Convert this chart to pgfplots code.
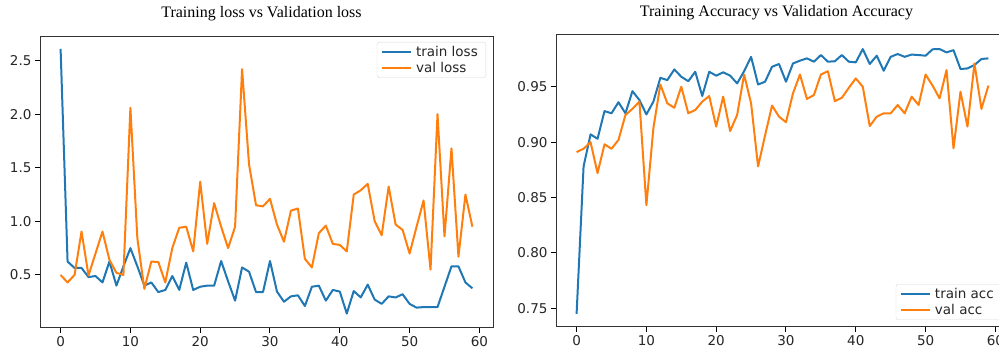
\documentclass[border=0pt]{standalone}
\usepackage{fontspec}
\setmainfont{DejaVu Sans}
\newfontfamily\titlefont{Liberation Serif}
\usepackage{pgfplots}
\usepackage{pgfplotstable}
\pgfplotsset{compat=1.18}

\definecolor{tabblue}{HTML}{1F77B4}
\definecolor{taborange}{HTML}{FF7F0E}

% epoch, training loss, validation loss
\pgfplotstableread{
epoch train val
0 2.61 0.50
1 0.625 0.43
2 0.565 0.50
3 0.565 0.905
4 0.48 0.495
5 0.49 0.70
6 0.43 0.905
7 0.625 0.64
8 0.40 0.52
9 0.58 0.50
10 0.75 2.06
11 0.58 0.84
12 0.40 0.37
13 0.43 0.625
14 0.34 0.62
15 0.36 0.43
16 0.49 0.75
17 0.36 0.94
18 0.615 0.95
19 0.36 0.72
20 0.39 1.37
21 0.40 0.79
22 0.40 1.17
23 0.63 0.95
24 0.44 0.75
25 0.26 0.95
26 0.57 2.42
27 0.53 1.53
28 0.34 1.15
29 0.34 1.14
30 0.63 1.21
31 0.345 0.97
32 0.25 0.81
33 0.30 1.10
34 0.31 1.12
35 0.21 0.65
36 0.39 0.57
37 0.40 0.89
38 0.26 0.96
39 0.36 0.79
40 0.345 0.78
41 0.14 0.72
42 0.35 1.25
43 0.29 1.29
44 0.41 1.35
45 0.27 1.00
46 0.23 0.87
47 0.30 1.325
48 0.29 0.97
49 0.32 0.92
50 0.23 0.70
51 0.195 0.95
52 0.20 1.195
53 0.20 0.55
54 0.20 2.00
55 0.39 0.86
56 0.58 1.68
57 0.58 0.67
58 0.43 1.25
59 0.375 0.95
}\losstable

% epoch, training accuracy, validation accuracy
\pgfplotstableread{
epoch train val
0 0.745 0.891
1 0.878 0.894
2 0.907 0.900
3 0.903 0.872
4 0.928 0.898
5 0.926 0.894
6 0.936 0.902
7 0.926 0.9245
8 0.946 0.930
9 0.938 0.9365
10 0.925 0.843
11 0.9365 0.9125
12 0.958 0.952
13 0.956 0.935
14 0.9656 0.931
15 0.959 0.950
16 0.955 0.926
17 0.9635 0.929
18 0.9416 0.9365
19 0.9635 0.9416
20 0.960 0.914
21 0.963 0.941
22 0.960 0.910
23 0.953 0.9245
24 0.964 0.961
25 0.977 0.935
26 0.952 0.878
27 0.9545 0.906
28 0.968 0.933
29 0.9705 0.923
30 0.9545 0.918
31 0.971 0.944
32 0.9735 0.961
33 0.9756 0.939
34 0.9726 0.9425
35 0.9786 0.961
36 0.9726 0.964
37 0.973 0.937
38 0.9786 0.940
39 0.9726 0.949
40 0.972 0.9575
41 0.984 0.950
42 0.9705 0.9145
43 0.978 0.923
44 0.9644 0.926
45 0.977 0.926
46 0.9795 0.9335
47 0.977 0.926
48 0.979 0.941
49 0.9786 0.9335
50 0.978 0.961
51 0.9838 0.951
52 0.984 0.9395
53 0.981 0.965
54 0.983 0.8944
55 0.966 0.9455
56 0.9665 0.914
57 0.9696 0.971
58 0.975 0.930
59 0.9756 0.951
}\acctable

\pgfplotsset{
  history/.style={
    scale only axis,
    width=453pt,
    xmin=-2.95, xmax=61.95,
    xtick={0,10,...,60},
    tick pos=left,
    tick align=outside,
    major tick length=5pt,
    tick style={black, line width=1pt},
    axis line style={black!80, line width=1pt},
    /pgf/number format/assume math mode=true,
    ticklabel style={font=\fontsize{13.5}{15}\selectfont, text=black!85},
    title style={font=\titlefont\fontsize{16}{19}\selectfont, anchor=base},
    legend cell align=left,
    legend image code/.code={\draw[##1] (0pt,0pt) -- (29pt,0pt);},
    legend style={draw=black!15, rounded corners=2.5pt, fill=white,
      font=\fontsize{13.5}{15}\selectfont, text=black!85,
      inner xsep=4pt, inner ysep=4pt, row sep=4pt,
      nodes={inner xsep=4pt, inner ysep=0pt}},
  },
  trainline/.style={color=tabblue, line width=2pt, line join=round},
  valline/.style={color=taborange, line width=2pt, line join=round},
}

\begin{document}
\begin{tikzpicture}
\path[use as bounding box] (0pt,0pt) rectangle (999pt,352pt);

\begin{axis}[history,
  at={(40pt,24pt)}, anchor=south west,
  height=291pt,
  ymin=0.005, ymax=2.72,
  ytick={0.5,1.0,1.5,2.0,2.5},
  yticklabel style={/pgf/number format/.cd, fixed, fixed zerofill, precision=1},
  title={Training loss vs Validation loss},
  title style={at={(0.5,1)}, yshift=13pt, xshift=-5pt},
  legend style={at={(1,1)}, anchor=north east, xshift=-7pt, yshift=-5pt},
]
\addplot[trainline] table[x=epoch, y=train] {\losstable};
\addlegendentry{train loss}
\addplot[valline] table[x=epoch, y=val] {\losstable};
\addlegendentry{val loss}
\end{axis}

\begin{axis}[history,
  at={(556pt,25pt)}, anchor=south west,
  height=292pt,
  ymin=0.7331, ymax=0.9967,
  ytick={0.75,0.80,0.85,0.90,0.95},
  yticklabel style={/pgf/number format/.cd, fixed, fixed zerofill, precision=2},
  title={Training Accuracy vs Validation Accuracy},
  title style={at={(0.5,1)}, yshift=12pt, xshift=-6pt},
  legend style={at={(1,0)}, anchor=south east, xshift=-7pt, yshift=7pt},
]
\addplot[trainline] table[x=epoch, y=train] {\acctable};
\addlegendentry{train acc}
\addplot[valline] table[x=epoch, y=val] {\acctable};
\addlegendentry{val acc}
\end{axis}
\end{tikzpicture}
\end{document}
